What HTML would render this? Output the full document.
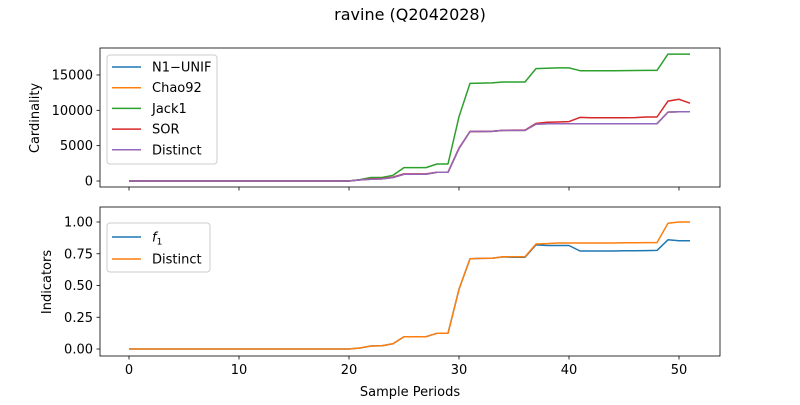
<!DOCTYPE html>
<html><head><meta charset="utf-8"><style>
body{margin:0;background:#fff}
svg text{font-family:"DejaVu Sans","Liberation Sans",sans-serif;fill:#000}
</style></head><body>
<svg width="800" height="400" viewBox="0 0 800 400" xmlns="http://www.w3.org/2000/svg">
<rect width="800" height="400" fill="#fff"/>
<text x="410" y="20" font-size="16" text-anchor="middle">ravine (Q2042028)</text>
<g id="top"></g>
<g id="bot"></g>
<text x="410" y="396" font-size="13" text-anchor="middle">Sample Periods</text>
<text transform="translate(39,118) rotate(-90)" font-size="13" text-anchor="middle">Cardinality</text>
<text transform="translate(51,282) rotate(-90)" font-size="13" text-anchor="middle">Indicators</text>
</svg>
<script>
const Z20 = [0,0,0,0,0,0,0,0,0,0,0,0,0,0,0,0,0,0,0,0,0];
const jack1 = Z20.concat([200,500,500,800,1900,1900,1900,2400,2400,9100,13800,13850,13870,14000,14000,14000,15900,15950,16000,16000,15600,15600,15600,15600,15620,15630,15650,15650,17950,17950,17950]);
const sor = Z20.concat([150,300,350,550,1000,1000,1000,1250,1250,4650,7000,7020,7050,7150,7200,7200,8150,8300,8350,8400,9000,8950,8950,8950,8950,8970,9050,9050,11300,11550,11000]);
const distinct = Z20.concat([150,250,300,500,950,950,950,1230,1230,4600,7000,7000,7020,7150,7150,7150,8050,8100,8100,8100,8100,8100,8100,8100,8100,8100,8100,8100,9750,9800,9800]);
const chao92 = distinct.slice();
const n1unif = distinct.slice();
const indDistinct = Z20.concat([0.008,0.024,0.026,0.042,0.097,0.097,0.097,0.124,0.124,0.47,0.711,0.713,0.715,0.727,0.727,0.727,0.827,0.83,0.835,0.835,0.835,0.835,0.835,0.835,0.836,0.837,0.838,0.838,0.99,1.0,1.0]);
const f1 = Z20.concat([0.008,0.024,0.026,0.042,0.097,0.097,0.097,0.124,0.124,0.47,0.711,0.713,0.715,0.725,0.722,0.722,0.82,0.815,0.815,0.815,0.772,0.772,0.772,0.772,0.773,0.774,0.775,0.776,0.86,0.852,0.852]);
const xTicks = [0,10,20,30,40,50];
const topTicks = [0,5000,10000,15000];
const botTicks = [0,0.25,0.5,0.75,1.0];
const botTickLabels = ["0.00","0.25","0.50","0.75","1.00"];

const NS="http://www.w3.org/2000/svg";
function mk(tag,attrs,parent,txt){const e=document.createElementNS(NS,tag);for(const k in attrs)e.setAttribute(k,attrs[k]);if(txt!==undefined)e.textContent=txt;parent.appendChild(e);return e;}
const X0=100,X1=720;
const xs=v=>129+(v)*11;
function panel(g,y0,y1,ys,ticks,labels,series,showX,legend){
  mk('rect',{x:X0,y:y0,width:X1-X0,height:y1-y0,fill:'#fff'},g);
  series.forEach(s=>{
    const pts=s.d.map((v,i)=>xs(i).toFixed(1)+','+ys(v).toFixed(1)).join(' ');
    const p=mk('polyline',{points:pts,fill:'none',stroke:s.c,'stroke-width':1.5,'stroke-linejoin':'round'},g);
    
    
  });
  const fr=mk('rect',{x:X0,y:y0,width:X1-X0,height:y1-y0,fill:'none',stroke:'#000','stroke-width':0.8},g);
  
  
  ticks.forEach((t,i)=>{
    const y=ys(t);
    mk('line',{x1:X0-3.5,x2:X0,y1:y,y2:y,stroke:'#000','stroke-width':0.8},g);
    const tx=mk('text',{x:X0-7,y:y+4.5,'font-size':13,'text-anchor':'end'},g,labels[i]);
    
    
  });
  xTicks.forEach(t=>{
    const x=xs(t);
    mk('line',{x1:x,x2:x,y1:y1,y2:y1+3.5,stroke:'#000','stroke-width':0.8},g);
    if(showX){
      const tx=mk('text',{x:x,y:y1+18,'font-size':13,'text-anchor':'middle'},g,String(t));
      
      
    }
  });
  const lg=mk('g',{},g);
  
  
  mk('rect',{x:legend.x,y:legend.y,width:legend.w,height:legend.h,rx:3,fill:'#fff','fill-opacity':0.8,stroke:'#ccc','stroke-width':1},lg);
  legend.items.forEach((it,i)=>{
    const y=legend.y0+i*legend.dy;
    const e=mk('g',{},lg);
    
    
    mk('line',{x1:112,x2:141,y1:y,y2:y,stroke:it.c,'stroke-width':1.5},e);
    const t=mk('text',{x:152,y:y+4.5,'font-size':13},e);
    t.innerHTML=it.t;
  });
}
const C={blue:'#1f77b4',orange:'#ff7f0e',green:'#2ca02c',red:'#d62728',purple:'#9467bd'};
const ysTop=v=>181-v*0.00707;
panel(document.getElementById('top'),48,187,ysTop,topTicks,topTicks.map(String),
 [{d:n1unif,c:C.blue,n:'n1-unif'},{d:chao92,c:C.orange,n:'chao92'},{d:jack1,c:C.green,n:'jack1'},{d:sor,c:C.red,n:'sor'},{d:distinct,c:C.purple,n:'distinct'}],
 false,{x:107,y:55,w:110,h:109,y0:67,dy:20.7,items:[{t:'N1\u2212UNIF',c:C.blue},{t:'Chao92',c:C.orange},{t:'Jack1',c:C.green},{t:'SOR',c:C.red},{t:'Distinct',c:C.purple}]});
const ysBot=v=>349-v*127;
panel(document.getElementById('bot'),207,356,ysBot,botTicks,botTickLabels,
 [{d:f1,c:C.blue,n:'f1'},{d:indDistinct,c:C.orange,n:'distinct-indicator'}],
 true,{x:107,y:223,w:103,h:49,y0:237,dy:22,items:[{t:'<tspan font-style="italic">f</tspan><tspan font-size="9" dy="3">1</tspan>',c:C.blue},{t:'Distinct',c:C.orange}]});
</script>
</body></html>
